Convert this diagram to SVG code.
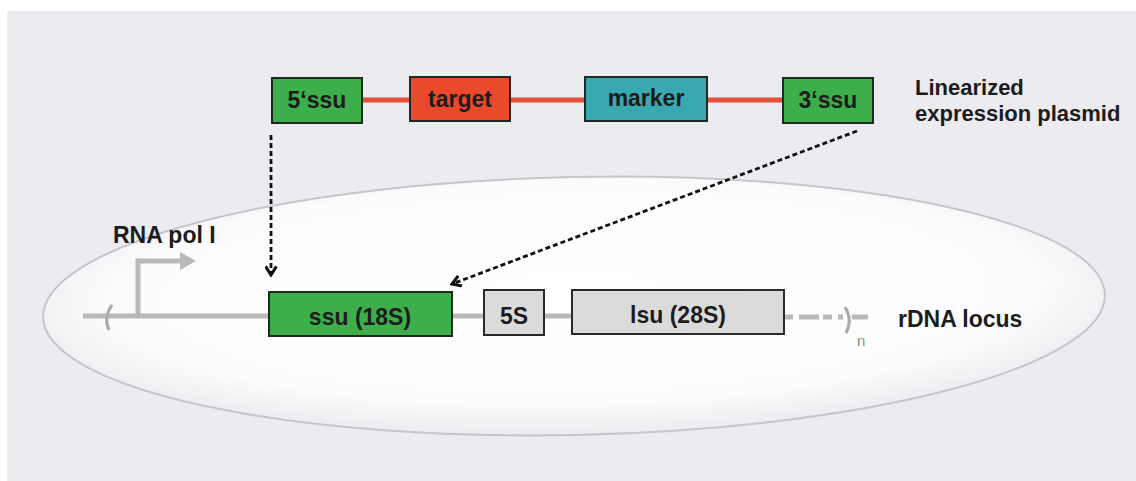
<svg xmlns="http://www.w3.org/2000/svg" width="1136" height="481" viewBox="0 0 1136 481">
  <defs>
    <radialGradient id="cellFill" cx="0.5" cy="0.45" r="0.55">
      <stop offset="0" stop-color="#ffffff"/>
      <stop offset="0.78" stop-color="#fcfcfd"/>
      <stop offset="1" stop-color="#ececf0"/>
    </radialGradient>
    <marker id="chevron" viewBox="0 0 12 12" refX="10" refY="6" markerWidth="13" markerHeight="13" markerUnits="userSpaceOnUse" orient="auto">
      <path d="M2,1 L10,6 L2,11" fill="none" stroke="#111" stroke-width="2.8"/>
    </marker>
    <style>
      .lbl { font-family: "Liberation Sans", Arial, sans-serif; font-weight: bold; font-size: 23px; fill: #1c1c1c; }
      .side { font-size: 22px; }
      .mid { text-anchor: middle; }
      .box { stroke: #1e2a20; stroke-width: 2; }
      .green { fill: #3cae4a; }
      .red { fill: #e84a2b; }
      .teal { fill: #38a9b0; }
      .grey { fill: #dcdbdc; stroke: #2a2a2a; stroke-width: 2; }
      .dna { stroke: #b9b9b9; stroke-width: 5; fill: none; }
      .link { stroke: #111; stroke-width: 2.8; stroke-dasharray: 5 3; fill: none; }
    </style>
  </defs>

  <!-- backdrop -->
  <rect x="0" y="0" width="1136" height="481" fill="#ffffff"/>
  <rect x="7" y="11" width="1129" height="470" fill="#ecebf0"/>

  <!-- cell outline, slightly tilted -->
  <ellipse cx="574" cy="306" rx="531" ry="129" transform="rotate(-1.2 574 306)" fill="url(#cellFill)" stroke="#c6c6ca" stroke-width="2"/>

  <!-- plasmid backbone -->
  <line x1="362" y1="100" x2="783" y2="100" stroke="#e5503a" stroke-width="5"/>

  <g id="five-ssu">
    <rect class="box green" x="272" y="78" width="90" height="45"/>
    <text class="lbl mid" x="317" y="108">5‘ssu</text>
  </g>
  <g id="target">
    <rect class="box red" x="410" y="77" width="100" height="44"/>
    <text class="lbl mid" x="460" y="107">target</text>
  </g>
  <g id="marker">
    <rect class="box teal" x="585" y="77" width="122" height="44"/>
    <text class="lbl mid" x="646" y="106">marker</text>
  </g>
  <g id="three-ssu">
    <rect class="box green" x="783" y="78" width="90" height="45"/>
    <text class="lbl mid" x="828" y="108">3‘ssu</text>
  </g>
  <g id="plasmid-label">
    <text class="lbl side" x="915" y="95">Linearized</text>
    <text class="lbl side" x="915" y="121">expression plasmid</text>
  </g>

  <!-- rDNA locus backbone -->
  <g id="locus-line">
    <line class="dna" x1="83" y1="316" x2="270" y2="316"/>
    <line class="dna" x1="452" y1="316" x2="484" y2="316"/>
    <line class="dna" x1="544" y1="316" x2="572" y2="316"/>
    <line class="dna" x1="784" y1="317" x2="843" y2="317" stroke-dasharray="9 6 20 4"/>
    <line class="dna" x1="852" y1="317" x2="868" y2="317"/>
    <path d="M112,305 Q103,317 109,330" fill="none" stroke="#a9a9a9" stroke-width="3"/>
    <path d="M845,307 Q853,320 846,333" fill="none" stroke="#a9a9a9" stroke-width="3"/>
    <text x="857" y="346" font-family="Liberation Sans, Arial, sans-serif" font-size="15" fill="#8c8c8c">n</text>
  </g>

  <g id="promoter">
    <path class="dna" d="M138,316 V261 H182"/>
    <path d="M180,252 L196,261 L180,270 Z" fill="#b9b9b9"/>
    <text class="lbl" x="113" y="243">RNA pol I</text>
  </g>

  <g id="ssu18S">
    <rect class="box green" x="269" y="292" width="183" height="44"/>
    <text class="lbl mid" x="360" y="325">ssu (18S)</text>
  </g>
  <g id="rRNA5S">
    <rect class="grey" x="484" y="290" width="60" height="45"/>
    <text class="lbl mid" x="514" y="324">5S</text>
  </g>
  <g id="lsu28S">
    <rect class="grey" x="572" y="290" width="212" height="44"/>
    <text class="lbl mid" x="678" y="323">lsu (28S)</text>
  </g>
  <g id="locus-label">
    <text class="lbl" x="898" y="327">rDNA locus</text>
  </g>

  <!-- recombination arrows -->
  <g id="connectors">
    <line class="link" x1="271" y1="135" x2="271" y2="275" marker-end="url(#chevron)"/>
    <line class="link" x1="857" y1="131" x2="452" y2="284" marker-end="url(#chevron)"/>
  </g>
</svg>
